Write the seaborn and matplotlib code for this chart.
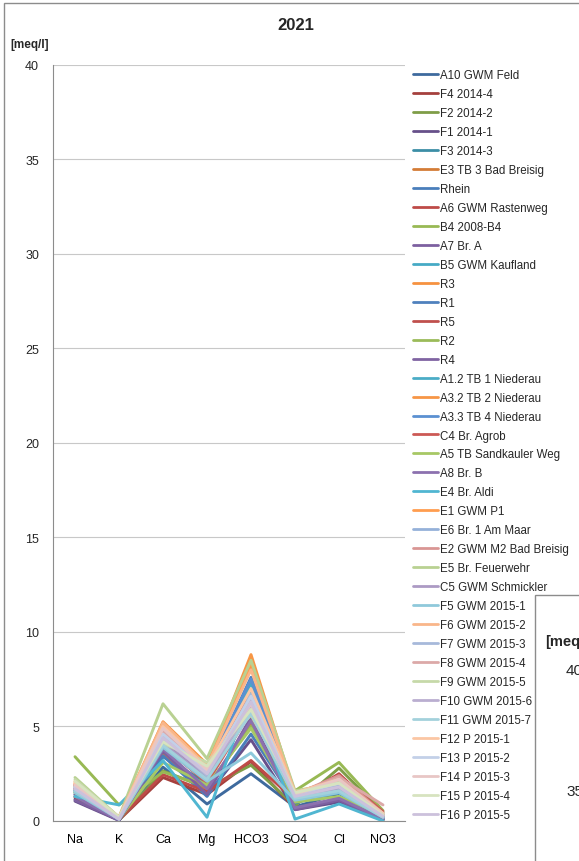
import matplotlib
matplotlib.use("Agg")
import matplotlib.pyplot as plt
import numpy as np
import pandas as pd
import seaborn as sns
from matplotlib.lines import Line2D
from matplotlib.patches import Rectangle

# Ion species on the x axis (Schoeller-type diagram)
ions = ["Na", "K", "Ca", "Mg", "HCO3", "SO4", "Cl", "NO3"]

# Sampling points
stations = [
    "A10 GWM Feld", "F4 2014-4", "F2 2014-2", "F1 2014-1", "F3 2014-3",
    "E3 TB 3 Bad Breisig", "Rhein", "A6 GWM Rastenweg", "B4 2008-B4", "A7 Br. A",
    "B5 GWM Kaufland", "R3", "R1", "R5", "R2", "R4",
    "A1.2 TB 1 Niederau", "A3.2 TB 2 Niederau", "A3.3 TB 4 Niederau", "C4 Br. Agrob",
    "A5 TB Sandkauler Weg", "A8 Br. B", "E4 Br. Aldi", "E1 GWM P1", "E6 Br. 1 Am Maar",
    "E2 GWM M2 Bad Breisig", "E5 Br. Feuerwehr", "C5 GWM Schmickler",
    "F5 GWM 2015-1", "F6 GWM 2015-2", "F7 GWM 2015-3", "F8 GWM 2015-4",
    "F9 GWM 2015-5", "F10 GWM 2015-6", "F11 GWM 2015-7", "F12 P 2015-1",
    "F13 P 2015-2", "F14 P 2015-3", "F15 P 2015-4", "F16 P 2015-5",
]

# Concentrations in meq/l, one list per ion, in station order
na = [1.15, 1.25, 1.3, 1.05, 1.4, 1.8, 1.6, 1.7, 3.4, 1.1, 1.5, 1.9, 1.6, 1.7, 1.5, 1.4, 1.6, 2.0, 1.8, 1.9,
      1.5, 1.3, 1.3, 2.1, 1.7, 1.9, 2.3, 1.6, 1.5, 2.0, 1.6, 1.9, 2.2, 1.7, 1.6, 2.0, 1.8, 1.9, 2.1, 1.7]
k = [0.05, 0.05, 0.05, 0.03, 0.05, 0.1, 0.1, 0.1, 0.85, 0.05, 0.15, 0.1, 0.1, 0.15, 0.1, 0.1, 0.1, 0.15, 0.1, 0.2,
     0.1, 0.05, 0.85, 0.2, 0.1, 0.15, 0.2, 0.1, 0.1, 0.2, 0.1, 0.15, 0.2, 0.1, 0.1, 0.2, 0.15, 0.15, 0.2, 0.1]
ca = [2.85, 2.3, 2.65, 3.6, 3.4, 3.5, 3.45, 2.45, 2.6, 3.7, 4.4, 5.25, 4.6, 4.5, 4.2, 4.3, 3.9, 5.1, 4.8, 4.0,
      3.1, 3.8, 3.2, 5.0, 4.4, 4.7, 6.2, 4.1, 3.9, 5.2, 4.5, 4.8, 4.1, 4.3, 4.0, 5.0, 4.6, 4.9, 4.2, 4.4]
mg = [0.9, 1.4, 1.75, 1.35, 2.0, 1.6, 1.3, 1.55, 1.8, 1.4, 2.3, 3.0, 2.6, 2.5, 2.2, 2.4, 2.1, 2.9, 2.7, 2.0,
      1.9, 1.7, 0.2, 2.8, 2.5, 2.6, 3.3, 2.3, 2.1, 2.9, 2.4, 2.7, 3.1, 2.5, 2.2, 2.8, 2.6, 2.7, 2.9, 2.5]
hco3 = [2.5, 3.15, 2.95, 4.3, 6.2, 5.2, 4.6, 3.2, 5.0, 5.5, 7.3, 8.2, 7.6, 6.8, 6.6, 6.4, 6.0, 8.8, 7.5, 5.8,
        4.9, 5.3, 6.9, 8.4, 6.5, 5.9, 8.5, 6.1, 3.6, 8.0, 6.7, 6.3, 5.6, 6.0, 5.7, 7.0, 6.6, 6.2, 5.9, 6.3]
so4 = [0.75, 0.65, 0.8, 0.6, 0.95, 1.0, 1.0, 1.1, 1.6, 0.6, 1.3, 1.4, 1.5, 1.3, 1.2, 1.2, 1.1, 1.45, 1.4, 1.3,
       1.0, 0.7, 0.1, 1.5, 1.3, 1.4, 1.6, 1.2, 1.1, 1.5, 1.3, 1.4, 1.5, 1.3, 1.2, 1.5, 1.4, 1.4, 1.5, 1.3]
cl = [1.45, 1.2, 2.8, 1.0, 1.6, 2.3, 1.5, 2.5, 3.1, 1.1, 1.8, 2.2, 1.9, 2.0, 1.7, 1.6, 1.5, 2.1, 1.9, 2.4,
      1.3, 1.2, 0.9, 2.2, 1.8, 2.4, 2.0, 1.7, 1.5, 2.1, 1.9, 2.3, 2.1, 1.8, 1.6, 2.2, 2.0, 2.2, 2.0, 1.8]
no3 = [0.1, 0.05, 0.45, 0.1, 0.05, 0.2, 0.1, 0.3, 0.55, 0.1, 0.3, 0.2, 0.2, 0.3, 0.3, 0.2, 0.2, 0.25, 0.2, 0.5,
       0.3, 0.1, 0.0, 0.3, 0.2, 0.4, 0.4, 0.3, 0.2, 0.3, 0.3, 0.85, 0.4, 0.3, 0.2, 0.4, 0.3, 0.35, 0.3, 0.25]

y_ticks = [0, 5, 10, 15, 20, 25, 30, 35, 40]

# Office-style series colours, from dark shades to light tints
palette = [
    "#3E6A9E", "#A5403D", "#7F9D47", "#67508A", "#3C8EA6", "#D47C37",
    "#4A7EBB", "#BE4B48", "#98B954", "#7D60A0", "#46AAC5", "#F69240",
    "#4F81BD", "#C0504D", "#9BBB59", "#8064A2", "#4BACC6", "#F79646",
    "#5B90D1", "#CC5955", "#A7C865", "#8C71AF", "#50B6D1", "#FF9D4F",
    "#95B1D9", "#D99694", "#B9D192", "#AC9AC4", "#8FC9DB", "#F9B68A",
    "#A7B9DA", "#DCA9A8", "#C6D9A9", "#BAAED0", "#A3D1DC", "#FBC6A4",
    "#C3D0E8", "#E8C6C5", "#D7E3C0", "#CCC1DC",
]

wide = pd.DataFrame({"Na": na, "K": k, "Ca": ca, "Mg": mg, "HCO3": hco3,
                     "SO4": so4, "Cl": cl, "NO3": no3}, index=stations)
long = (wide.reset_index(names="station")
            .melt(id_vars="station", var_name="ion", value_name="meq"))
long["ion"] = pd.Categorical(long["ion"], categories=ions, ordered=True)
long["x"] = long["ion"].cat.codes

sns.set_style("white")
plt.rcParams["font.family"] = ["Liberation Sans", "DejaVu Sans"]

W, H = 579, 862
fig = plt.figure(figsize=(W / 100, H / 100), dpi=100)
fig.patch.set_facecolor("white")

# outer chart frame (continues past the right and bottom edges)
fig.patches.append(Rectangle((4 / W, -0.05), 1.2, 1.05 - 4 / H, transform=fig.transFigure,
                             fill=False, edgecolor="#8C8C8C", linewidth=1.0, zorder=0))

ax = fig.add_axes([53 / W, 1 - 822 / H, (405 - 53) / W, (822 - 65.7) / H])
ax.set_facecolor("none")

sns.lineplot(data=long, x="x", y="meq", hue="station", hue_order=stations,
             palette=palette, sort=False, linewidth=2.1, legend=False, ax=ax,
             estimator=None)

ax.set_xlim(-0.5, 7.5)
ax.set_ylim(0, 40)
ax.set_yticks(y_ticks)
ax.set_xticks(range(len(ions)))
ax.set_xticklabels(ions)
ax.set_xticks(np.arange(-0.5, 8.0, 1.0), minor=True)
ax.tick_params(axis="x", which="major", length=0, pad=9, labelsize=9, colors="#000000")
ax.tick_params(axis="x", which="minor", length=5, width=0.8, color="#8C8C8C", direction="out")
ax.tick_params(axis="y", which="major", length=4, width=0.8, color="#8C8C8C", direction="out",
               pad=6, labelsize=9)
ax.yaxis.grid(True, color="#C8C8C8", linewidth=0.8)
ax.xaxis.grid(False)
ax.set_axisbelow(True)
for side in ["top", "right"]:
    ax.spines[side].set_visible(False)
for side in ["left", "bottom"]:
    ax.spines[side].set_color("#8C8C8C")
    ax.spines[side].set_linewidth(0.8)
ax.set_xlabel("")
ax.set_ylabel("")

fig.text(296 / W, 1 - 25 / H, "2021", ha="center", va="center", fontsize=12, fontweight="bold")
fig.text(10 / W, 1 - 45 / H, "[meq/l]", ha="left", va="center", fontsize=8.5, fontweight="bold")

handles = [Line2D([0], [0], color=c, linewidth=2.0) for c in palette]
fig.legend(handles, stations, loc="upper left", bbox_to_anchor=(413 / W, 1 - 70 / H),
           frameon=False, fontsize=8.3, handlelength=2.2, handletextpad=0.1,
           labelspacing=0.605, borderpad=0, borderaxespad=0)

# start of the next chart, overlapping at the lower right
fig.patches.append(Rectangle((535 / W, -0.05), 0.5, 1.05 - 596 / H, transform=fig.transFigure,
                             facecolor="white", edgecolor="#8C8C8C", linewidth=1.0, zorder=5))
fig.text(545 / W, 1 - 642 / H, "[meq/l]", ha="left", va="center", fontsize=10.5,
         fontweight="bold", zorder=6)
fig.text(566 / W, 1 - 671 / H, "40", ha="left", va="center", fontsize=11, zorder=6)
fig.text(566 / W, 1 - 792 / H, "35", ha="left", va="center", fontsize=11, zorder=6)

fig.savefig("out.png", dpi=100, facecolor="white")
